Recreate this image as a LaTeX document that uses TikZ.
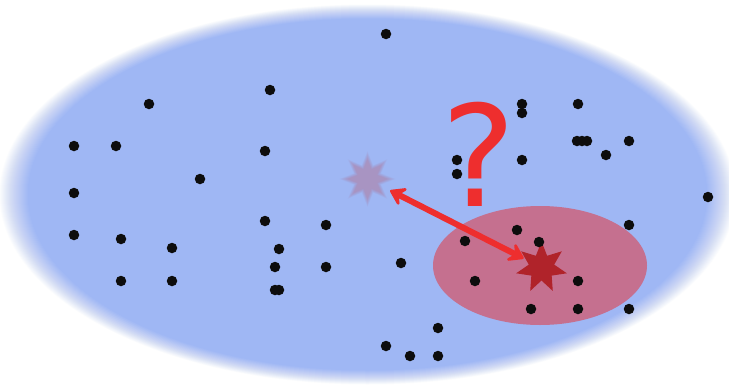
\documentclass[tikz,border=0pt]{standalone}
\usepackage{fontspec}
\usepackage{tikz}
\usetikzlibrary{arrows.meta,shapes.geometric}
\newfontfamily\qfont{DejaVu Sans}
\definecolor{cloudfill}{HTML}{9FB7F4}
\definecolor{regionfill}{HTML}{C5708F}
\definecolor{targetfill}{HTML}{B0232A}
\definecolor{ghostfill}{HTML}{A894C2}
\definecolor{linkred}{HTML}{EE2E2E}

\begin{document}
\begin{tikzpicture}[x=0.03cm, y=-0.03cm,
  pt/.style={circle, fill=black!95, inner sep=0pt, minimum size=0.315cm},
  region/.style={fill=regionfill},
  target/.style={star, star points=7, star point ratio=2.0, minimum size=1.56cm, inner sep=0pt, fill=targetfill},
  ghost/.style={star, star points=8, star point ratio=1.9, inner sep=0pt, fill=ghostfill},
  link/.style={<->, >={Stealth[length=0.56cm, width=0.74cm, inset=0.24cm, round]}, line width=0.18cm, linkred},
  qmark/.style={anchor=base, inner sep=0pt, text=linkred, font=\qfont\fontsize{120}{120}\selectfont}
]
  \clip (0,0) rectangle (729,388);
  \fill[white] (0,0) rectangle (729,388);

  % blurred cloud
  \foreach \j [evaluate=\j as \op using {1/(31-\j)},
               evaluate=\j as \rx using {369-\j},
               evaluate=\j as \ry using {190.5-0.5*\j}] in {1,...,30}
    \fill[cloudfill, opacity=\op] (367.5,194.5) ellipse [x radius=\rx, y radius=\ry];

  \fill[region] (540,265.5) ellipse [x radius=107, y radius=59.5];

  % faded star
  \foreach \j [evaluate=\j as \op using {1/(11-\j)},
               evaluate=\j as \sz using {(58-2*\j)*0.03}] in {1,...,10}
    \node[ghost, opacity=\op, minimum size=\sz cm] (ghost\j) at (367.5,179) {};
  \node[ghost, minimum size=1.2cm, fill opacity=0] (ghost) at (367.5,179) {};

  \node[target] (target) at (541.5,267.5) {};

  \foreach \x/\y [count=\i] in {386/34, 149/104, 270/90, 74/146, 116/146, 265/151, 200/179,
      74/193, 74/235, 121/239, 172/248, 265/221, 279/249, 326/225, 275/267, 326/267,
      121/281, 172/281, 275/290, 279/290, 401/263, 386/346, 410/356, 438/356, 438/328,
      457/160, 457/174, 522/104, 522/113, 578/104, 577/141, 582/141, 587/141, 629/141,
      606/155, 522/160, 708/197, 629/225, 517/230, 539/242, 465/241, 475/281, 578/281,
      531/309, 578/309, 629/309}
    \node[pt] (p\i) at (\x,\y) {};

  \draw[link, shorten <=0.76cm, shorten >=0.6cm] (ghost.center) -- (target.center);

  \node[qmark] (ask) at (478.5,206) {?};
\end{tikzpicture}
\end{document}
